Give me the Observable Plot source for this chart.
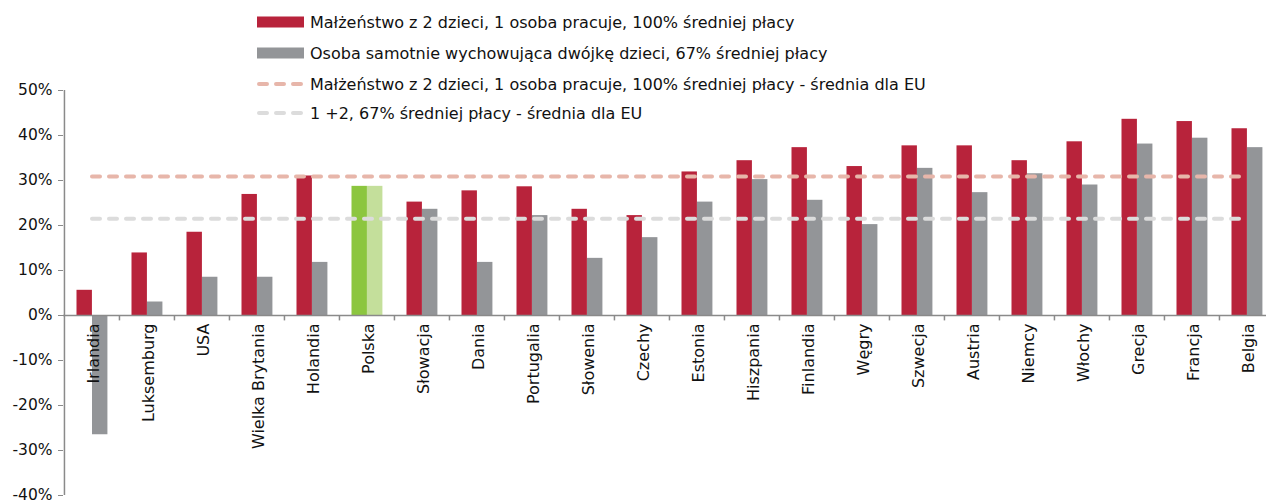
<!DOCTYPE html>
<html><head><meta charset="utf-8">
<script src="https://cdn.jsdelivr.net/npm/d3@7"></script>
<script src="https://cdn.jsdelivr.net/npm/@observablehq/plot@0.6"></script>
<style>
html,body{margin:0;padding:0;overflow:hidden;background:#fff;}
#wrap{position:relative;width:1266px;height:504px;font-family:"DejaVu Sans",sans-serif;overflow:hidden;}
#wrap > svg{position:absolute;left:0;top:0;}
.leg{position:absolute;left:257px;height:20px;display:flex;align-items:center;font-size:16px;color:#111;white-space:nowrap;}
.leg svg{display:block;margin-right:6px;}
</style></head><body><div id="wrap"></div>
<script>
const countries = ["Irlandia","Luksemburg","USA","Wielka Brytania","Holandia","Polska","Słowacja","Dania","Portugalia","Słowenia","Czechy","Estonia","Hiszpania","Finlandia","Węgry","Szwecja","Austria","Niemcy","Włochy","Grecja","Francja","Belgia"];
const married = [5.6,13.9,18.5,26.9,31.0,28.7,25.2,27.7,28.6,23.6,22.2,31.9,34.4,37.3,33.1,37.7,37.7,34.4,38.6,43.6,43.1,41.5];
const single = [-26.5,3.0,8.5,8.5,11.8,28.7,23.6,11.8,22.2,12.7,17.3,25.2,30.2,25.6,20.2,32.7,27.3,31.5,29.0,38.1,39.4,37.3];
const euMarried = 30.9;
const euSingle = 21.5;
const yTicks = [-40,-30,-20,-10,0,10,20,30,40,50];
const seriesNames = [
  "Małżeństwo z 2 dzieci, 1 osoba pracuje, 100% średniej płacy",
  "Osoba samotnie wychowująca dwójkę dzieci, 67% średniej płacy",
  "Małżeństwo z 2 dzieci, 1 osoba pracuje, 100% średniej płacy - średnia dla EU",
  "1 +2, 67% średniej płacy - średnia dla EU"
];
const highlight = "Polska";

const RED = "#b8233b", GRAY = "#939598", GREEN = "#8cc63f", LGREEN = "#c4df9b";
const PINK = "#e7b6aa", LGRAY = "#dcdcdc", AXIS = "#8a8a8a";
const DASH = "8,9";

const rows = countries.map((c,i)=>({country:c, married:married[i], single:single[i]}));
const x0 = 63, x1 = 1275;
const bw = (x1 - x0) / countries.length;
const edge = 12.5, barW = 15.5;

const chart = Plot.plot({
  width: 1266, height: 504,
  marginLeft: 63, marginRight: 0, marginTop: 90, marginBottom: 9,
  x: {domain: countries, range: [x0, x1], padding: 0, axis: null},
  y: {domain: [-40, 50], axis: null},
  style: {fontFamily: "DejaVu Sans", fontSize: "15px", background: "transparent", overflow: "visible"},
  marks: [
    Plot.barY(rows.filter(d=>d.country!==highlight), {x:"country", y:"married", fill:RED, insetLeft:edge, insetRight:bw-edge-barW}),
    Plot.barY(rows.filter(d=>d.country!==highlight), {x:"country", y:"single", fill:GRAY, insetLeft:edge+barW, insetRight:bw-edge-2*barW}),
    Plot.barY(rows.filter(d=>d.country===highlight), {x:"country", y:"married", fill:GREEN, insetLeft:edge, insetRight:bw-edge-barW}),
    Plot.barY(rows.filter(d=>d.country===highlight), {x:"country", y:"single", fill:LGREEN, insetLeft:edge+barW, insetRight:bw-edge-2*barW}),
    Plot.lineY(countries, {x:d=>d, y:()=>euMarried, stroke:PINK, strokeWidth:4, strokeDasharray:DASH, strokeLinecap:"round"}),
    Plot.lineY(countries, {x:d=>d, y:()=>euSingle, stroke:LGRAY, strokeWidth:4, strokeDasharray:DASH, strokeLinecap:"round"}),
    Plot.ruleY([0], {stroke:AXIS, strokeWidth:1.5}),
    Plot.ruleX([countries[0]], {x:d=>d, dx:-bw/2, y1:-40, y2:50, stroke:AXIS, strokeWidth:1.5}),
    Plot.ruleX(countries.slice(1), {x:d=>d, dx:-bw/2, y1:0, y2:-1.2, stroke:AXIS, strokeWidth:1.5}),
    Plot.axisY({ticks:yTicks, tickFormat:d=>d+"%", tickSize:5, tickPadding:6, fontSize:15.5, stroke:AXIS, fill:"#111"}),
    Plot.text(countries, {x:d=>d, y:0, text:d=>d, rotate:-90, textAnchor:"end", lineAnchor:"middle", dy:8, dx:1.5, fontSize:16, fill:"#111"})
  ]
});
const wrap = document.getElementById("wrap");
wrap.appendChild(chart);

function swatch(kind, color){
  const s = d3.create("svg").attr("width",47).attr("height",14);
  if (kind==="rect") s.append("rect").attr("x",0).attr("y",1.5).attr("width",47).attr("height",11).attr("fill",color);
  else s.append("line").attr("x1",2).attr("x2",45).attr("y1",7).attr("y2",7).attr("stroke",color).attr("stroke-width",4).attr("stroke-dasharray",DASH).attr("stroke-linecap","round");
  return s.node();
}
const legItems = [["rect",RED,22],["rect",GRAY,53],["line",PINK,84],["line",LGRAY,113]];
legItems.forEach(([k,c,cy],i)=>{
  const div = document.createElement("div");
  div.className = "leg";
  div.style.top = (cy-10)+"px";
  div.appendChild(swatch(k,c));
  const sp = document.createElement("span");
  sp.textContent = seriesNames[i];
  div.appendChild(sp);
  wrap.appendChild(div);
});
</script></body></html>
